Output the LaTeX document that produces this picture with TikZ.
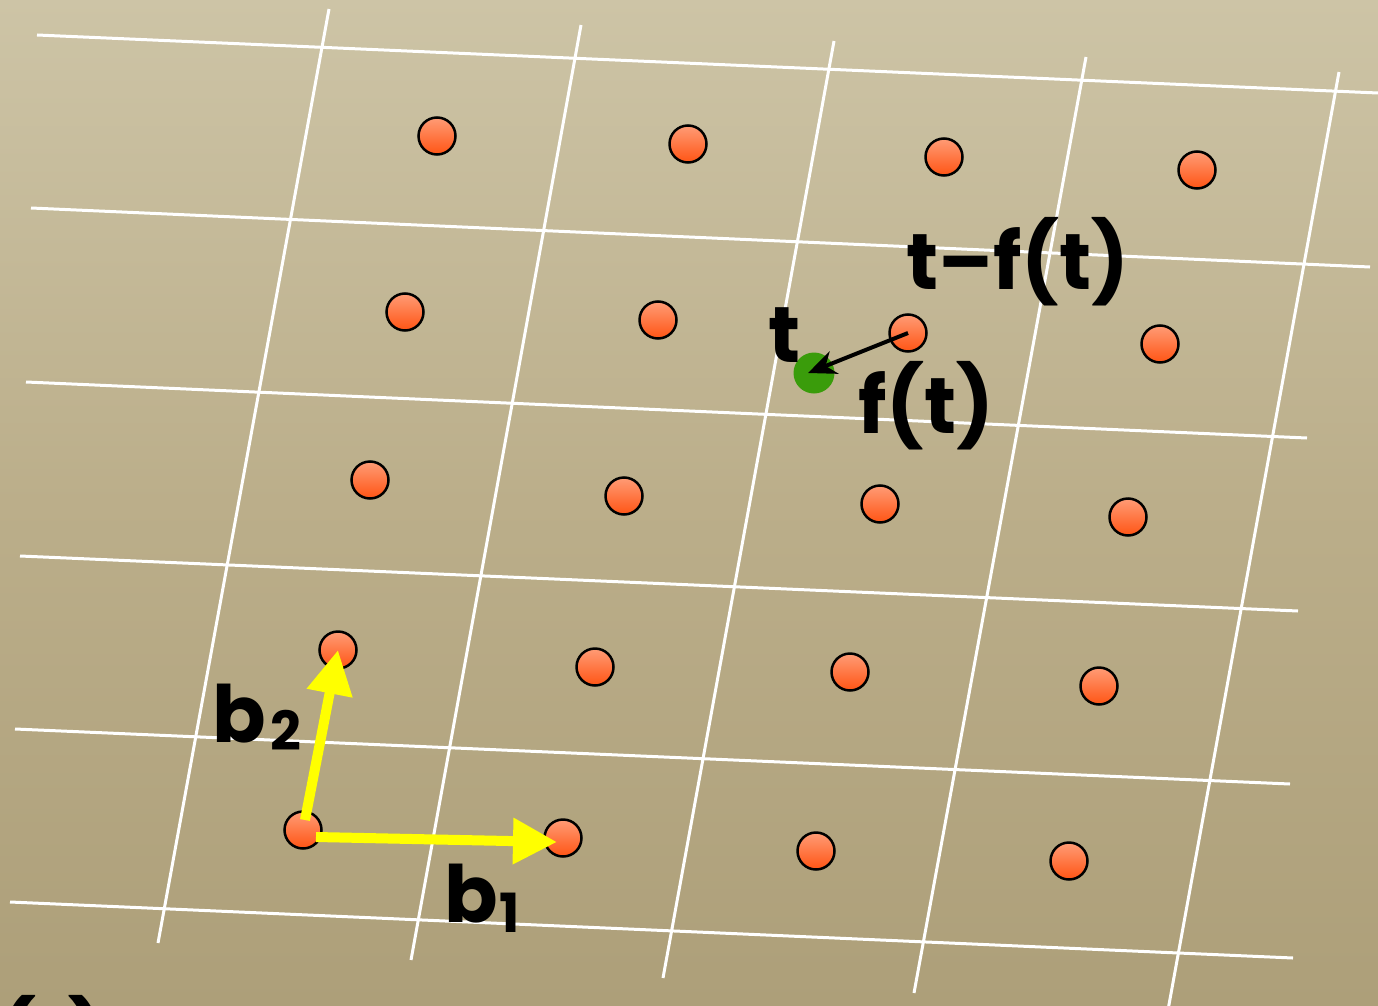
\documentclass[tikz,border=0pt]{standalone}
\usepackage{fontspec}
\newfontfamily\chalk{Poppins}
\usepackage{tikz}
\usetikzlibrary{arrows.meta, calc}
\definecolor{ltBgTop}{HTML}{CDC4A6}
\definecolor{ltBgMid}{HTML}{BBAE8A}
\definecolor{ltBgBot}{HTML}{AD9F79}
\definecolor{ltDotTop}{HTML}{FF9C76}
\definecolor{ltDotBot}{HTML}{FF5414}
\definecolor{ltGreen}{HTML}{3A9C0B}
\definecolor{ltYellow}{HTML}{FFFF00}
\tikzset{
  gridline/.style={white, line width=3pt},
  latpt/.style={
    circle, draw=black, line width=2.5pt,
    top color=ltDotTop, bottom color=ltDotBot,
    minimum size=37pt, inner sep=0pt
  },
  target/.style={circle, fill=ltGreen, minimum size=41pt, inner sep=0pt},
  basis/.style={
    -{Triangle[length=44pt, width=44pt]},
    ltYellow, line width=10pt
  },
  offset/.style={
    -{Stealth[length=28pt, width=24pt]},
    black, line width=4pt
  },
  lbl/.style={font=\chalk\bfseries\fontsize{79}{88}\selectfont, inner sep=0pt}
}

\begin{document}
\begin{tikzpicture}[x=1pt, y=-1pt]
        \useasboundingbox (0,0) rectangle (1378,1006);
        \clip (0,0) rectangle (1378,1006);
        \fill[top color=ltBgTop, bottom color=ltBgBot, middle color=ltBgMid] (0,0) rectangle (1378,1006);
        % lattice grid
        \foreach \xa/\ya/\xb/\yb in {37/35/1378/93, 31/208/1370/267, 26/382/1307/438,
            20/556/1298/611, 15/729/1290/784, 10/902/1293/958,
            329/9/158/943, 581/25/411/960, 834/41/663/978, 1086/57/914/993, 1339/72/1168/1010}
          \draw[gridline] (\xa,\ya) -- (\xb,\yb);
        % lattice points
        \foreach \n/\x/\y in {p11/437/136, p12/688/144, p13/944/157, p14/1197/170,
            p21/405/312, p22/658/320, p23/908/333, p24/1160/344,
            p31/370/480, p32/624/496, p33/880/504, p34/1128/517,
            p41/338/650, p42/595/667, p43/850/672, p44/1099/686,
            p51/303/830, p52/563/838, p53/816/851, p54/1069/861}
          \node[latpt] (\n) at (\x,\y) {};
        \node[target] (t) at (814,373) {};
        \draw[offset] (p23.center) -- ([xshift=-6pt]t.center);
        \draw[basis] ([xshift=13pt, yshift=-7pt]p51.center) -- ([xshift=-6pt, yshift=-4pt]p52.center);
        \draw[basis] ([xshift=2pt, yshift=10pt]p51.center) -- (p41.center);
        % labels
        \node[lbl, anchor=base west] (tlbl) at (768,362) {t};
        \node[lbl, anchor=base west] (difflbl) at (906,289) {t–f(t)};
        \node[lbl, anchor=base west] (flbl) at (858,433) {f(t)};
        \node[lbl, anchor=base west] (b2lbl) at (212,742) {b\hspace{5pt}\raisebox{-8pt}{\fontsize{54}{54}\selectfont 2}};
        \node[lbl, anchor=base west] (b1lbl) at (444,922) {b\hspace{2pt}\raisebox{-10pt}{\fontsize{54}{54}\selectfont 1}};
        \node[lbl, anchor=north west] (caption) at (-30,995) {f(t)};
      \end{tikzpicture}
\end{document}
